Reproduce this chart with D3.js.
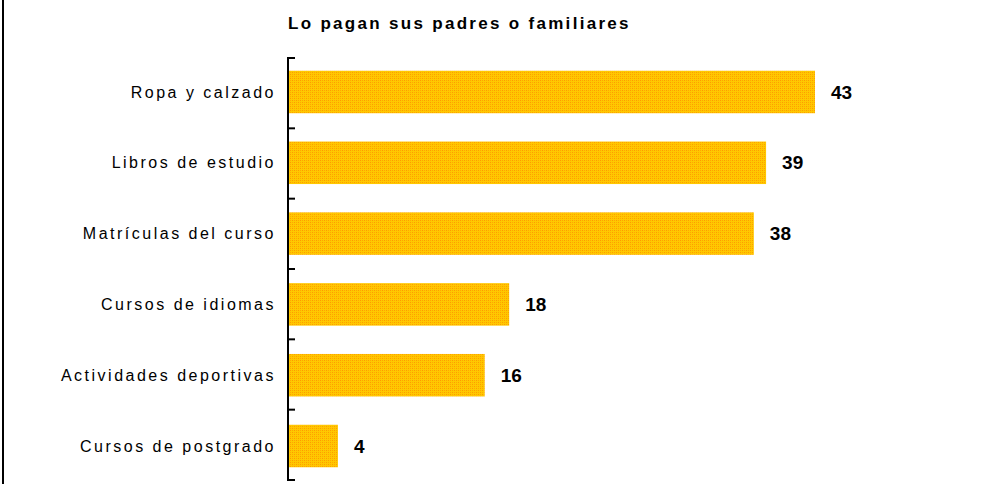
<!DOCTYPE html>
<html>
<head>
<meta charset="utf-8">
<script src="https://cdn.jsdelivr.net/npm/d3@7"></script>
<style>
  body { margin: 0; background: #fff; }
  svg { display: block; }
</style>
</head>
<body>
<svg></svg>
<script>
var categories = ['Ropa y calzado', 'Libros de estudio', 'Matrículas del curso', 'Cursos de idiomas', 'Actividades deportivas', 'Cursos de postgrado']
var values = [43, 39, 38, 18, 16, 4]
var title = 'Lo pagan sus padres o familiares'

var width = 986
var height = 484

var svg = d3.select('svg').attr('width', width).attr('height', height)

// dithered yellow / orange fill, like the old gif
var defs = svg.append('defs')
var pat = defs.append('pattern')
	.attr('id', 'dither')
	.attr('patternUnits', 'userSpaceOnUse')
	.attr('width', 4).attr('height', 4)
pat.append('rect').attr('width', 4).attr('height', 4).attr('fill', '#ffc800')
pat.append('rect').attr('x', 0).attr('y', 0).attr('width', 1).attr('height', 1).attr('fill', '#ff9a00')
pat.append('rect').attr('x', 2).attr('y', 2).attr('width', 1).attr('height', 1).attr('fill', '#ff9a00')
pat.append('rect').attr('x', 2).attr('y', 0).attr('width', 1).attr('height', 1).attr('fill', '#ffa800')
pat.append('rect').attr('x', 0).attr('y', 2).attr('width', 1).attr('height', 1).attr('fill', '#ffa800')

// left frame line
svg.append('line')
	.attr('x1', 3).attr('x2', 3)
	.attr('y1', 0).attr('y2', height)
	.attr('stroke', '#000').attr('stroke-width', 2)

var axisX = 288
var yTop = 58, yBottom = 480

var x = d3.scaleLinear().domain([0, 43]).range([axisX + 1, 815])
var y = d3.scaleBand().domain(categories).range([yTop, yBottom]).paddingInner(0.4).paddingOuter(0.18)

svg.append('text')
	.attr('x', 288).attr('y', 29)
	.attr('font-family', 'Liberation Sans, Arial, sans-serif')
	.attr('font-size', 17).attr('font-weight', 'bold')
	.attr('letter-spacing', 2.3)
	.text(title)

// bars
svg.append('g').selectAll('rect')
	.data(values)
	.enter().append('rect')
	.attr('x', x(0))
	.attr('y', function(d, i) {return y(categories[i])})
	.attr('width', function(d) {return x(d) - x(0)})
	.attr('height', y.bandwidth())
	.attr('fill', 'url(#dither)')

// axis line with ticks at the band edges
var tickYs = d3.range(categories.length + 1).map(function(i) {return yTop + i * (yBottom - yTop) / categories.length})
svg.append('line')
	.attr('x1', axisX).attr('x2', axisX)
	.attr('y1', yTop).attr('y2', yBottom)
	.attr('stroke', '#000').attr('stroke-width', 2)
svg.append('g').selectAll('line')
	.data(tickYs)
	.enter().append('line')
	.attr('x1', axisX - 1).attr('x2', axisX + 7)
	.attr('y1', function(d) {return d}).attr('y2', function(d) {return d})
	.attr('stroke', '#000').attr('stroke-width', 2)

// category labels
svg.append('g').selectAll('text')
	.data(categories)
	.enter().append('text')
	.attr('x', 276)
	.attr('y', function(d) {return y(d) + y.bandwidth() / 2})
	.attr('dy', '0.35em')
	.attr('text-anchor', 'end')
	.attr('font-family', 'Liberation Sans, Arial, sans-serif')
	.attr('font-size', 16)
	.attr('letter-spacing', 2.5)
	.text(function(d) {return d})

// value labels
svg.append('g').selectAll('text')
	.data(values)
	.enter().append('text')
	.attr('x', function(d) {return x(d) + 16})
	.attr('y', function(d, i) {return y(categories[i]) + y.bandwidth() / 2})
	.attr('dy', '0.35em')
	.attr('font-family', 'Liberation Sans, Arial, sans-serif')
	.attr('font-size', 19).attr('font-weight', 'bold')
	.text(function(d) {return d})
</script>
</body>
</html>
